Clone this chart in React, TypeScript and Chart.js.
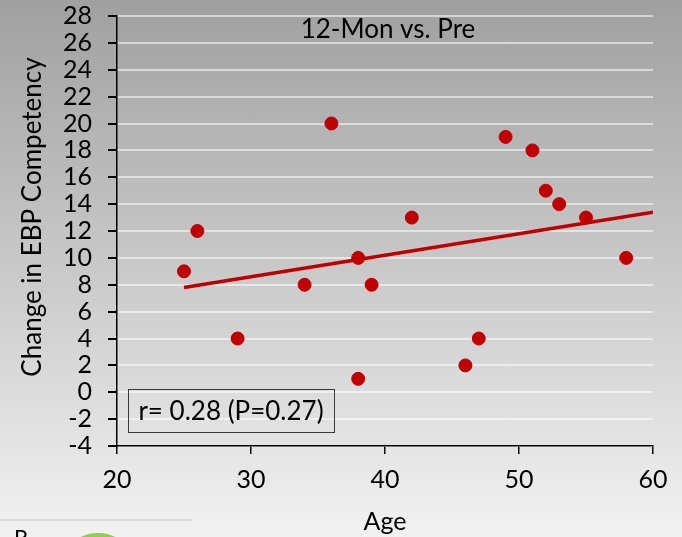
import React, { useEffect, useRef } from "react";
import { Chart, registerables } from "chart.js";
Chart.register(...registerables);

const ages = [25, 26, 29, 34, 36, 38, 38, 39, 42, 46, 47, 49, 51, 52, 53, 55, 58];
const changes = [9, 12, 4, 8, 20, 10, 1, 8, 13, 2, 4, 19, 18, 15, 14, 13, 10];
const trendX = [25, 60];
const trendY = [7.8, 13.4];
const chartTitle = "12-Mon vs. Pre";
const statLabel = "r= 0.28 (P=0.27)";
const xTitle = "Age";
const yTitle = "Change in EBP Competency";

const FONT = "Lato, 'Open Sans', sans-serif";
const RED = "#c00000";

const overlayPlugin = {
  id: "overlay",
  afterDatasetsDraw(chart: any) {
    const { ctx, chartArea } = chart;
    ctx.save();
    ctx.fillStyle = "#000";
    ctx.font = `26px ${FONT}`;
    ctx.textAlign = "center";
    ctx.textBaseline = "middle";
    ctx.fillText(chartTitle, (chartArea.left + chartArea.right) / 2 + 3, chartArea.top + 14);
    // stat box
    const bx = chartArea.left + 11;
    const by = chartArea.bottom - 57;
    const bw = 206;
    const bh = 43;
    ctx.strokeStyle = "#3a3a3a";
    ctx.lineWidth = 1;
    ctx.strokeRect(bx + 0.5, by + 0.5, bw, bh);
    ctx.fillText(statLabel, bx + bw / 2, by + bh / 2 + 1);
    // y axis title
    ctx.translate(33, chartArea.top + 201);
    ctx.rotate(-Math.PI / 2);
    ctx.fillText(yTitle, 0, 0);
    ctx.restore();
  },
};

export default function App() {
  const ref = useRef<HTMLCanvasElement | null>(null);
  useEffect(() => {
    if (!ref.current) return;
    const chart = new Chart(ref.current, {
      type: "scatter",
      data: {
        datasets: [
          {
            type: "line",
            data: trendX.map((x, i) => ({ x, y: trendY[i] })),
            borderColor: RED,
            borderWidth: 3.5,
            pointRadius: 0,
            fill: false,
          } as any,
          {
            type: "scatter",
            data: ages.map((x, i) => ({ x, y: changes[i] })),
            backgroundColor: RED,
            borderColor: RED,
            pointRadius: 6.5,
            pointHoverRadius: 6.5,
          },
        ],
      },
      options: {
        animation: false,
        responsive: false,
        layout: { padding: { left: 0, right: 29, top: 16, bottom: 0 } },
        plugins: { legend: { display: false }, tooltip: { enabled: false } },
        scales: {
          x: {
            type: "linear",
            min: 20,
            max: 60,
            ticks: { stepSize: 10, autoSkip: false, maxRotation: 0, color: "#000", font: { family: FONT, size: 25 }, padding: 11 },
            grid: { drawOnChartArea: false, tickLength: 8, tickColor: "#000", lineWidth: 1.5 },
            border: { color: "#000", width: 1.5 },
            title: { display: true, text: xTitle, color: "#000", font: { family: FONT, size: 25 }, padding: { top: 0, bottom: 0 } },
            afterFit(scale: any) {
              scale.height = 91;
            },
          },
          y: {
            type: "linear",
            min: -4,
            max: 28,
            ticks: { stepSize: 2, autoSkip: false, color: "#000", font: { family: FONT, size: 25, lineHeight: 1 }, padding: 16 },
            grid: {
              color: "rgba(255,255,255,0.55)",
              lineWidth: 2,
              tickLength: 9,
              tickColor: "#000",
            },
            border: { color: "#000", width: 1.5 },
            afterFit(scale: any) {
              scale.width = 117;
              scale.paddingTop = 0;
              scale.paddingBottom = 0;
            },
          },
        },
      },
      plugins: [overlayPlugin],
    } as any);
    return () => chart.destroy();
  }, []);

  return (
    <div
      style={{
        position: "fixed",
        left: 0,
        top: 0,
        width: 682,
        height: 537,
        overflow: "hidden",
        background: "linear-gradient(to bottom, #a0a0a0 0%, #f2f2f2 100%)",
      }}
    >
      <canvas ref={ref} width={682} height={537} style={{ position: "absolute", left: 0, top: 0 }} />
      <div style={{ position: "absolute", left: 0, top: 519, width: 192, height: 2, background: "#d8d8d8" }} />
      <div style={{ position: "absolute", left: 14, top: 526, fontFamily: FONT, fontSize: 22, lineHeight: "22px", color: "#000" }}>P</div>
      <div style={{ position: "absolute", left: 72, top: 533, width: 52, height: 30, borderRadius: "50%", background: "#8dd04a" }} />
    </div>
  );
}
